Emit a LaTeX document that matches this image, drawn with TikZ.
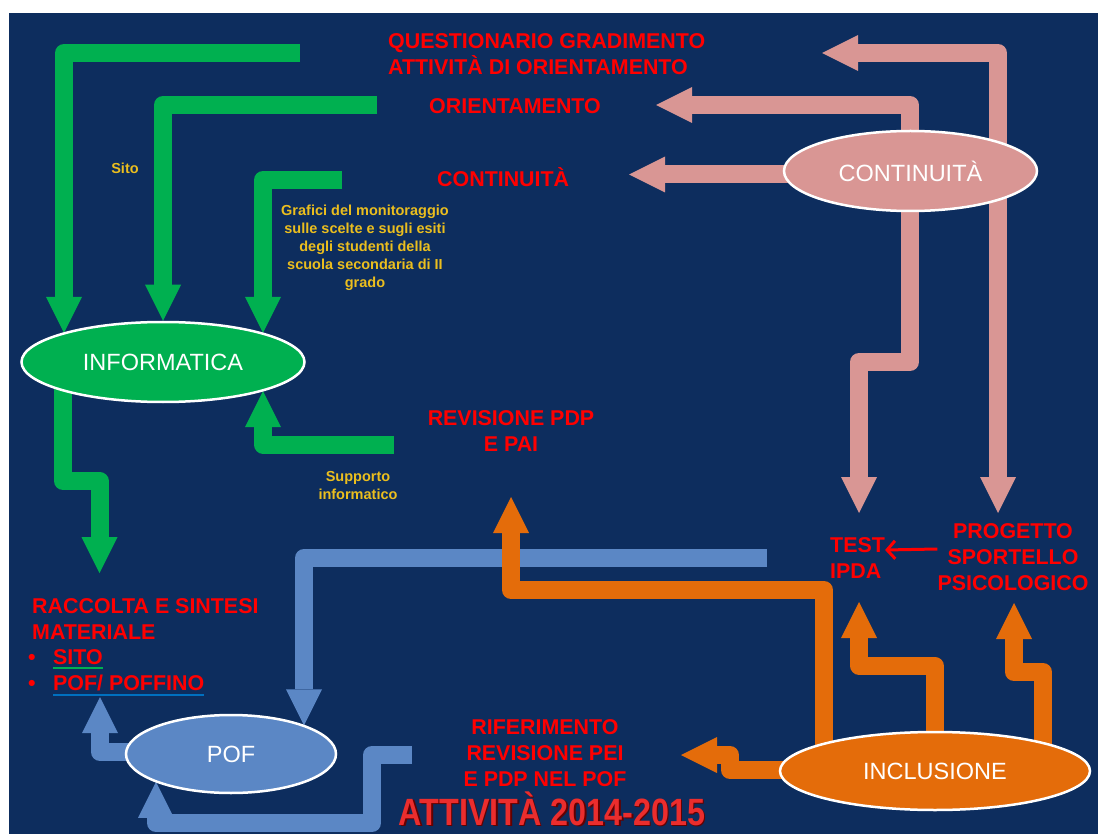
\documentclass[tikz,border=0pt]{standalone}
\usepackage{fontspec}
\setmainfont{Liberation Sans}
\newfontfamily\titlefont{Liberation Sans}[FakeStretch=0.85]
\usetikzlibrary{arrows.meta,shapes.geometric,calc}
\definecolor{bgblue}{RGB}{13,45,94}
\definecolor{grn}{HTML}{00B050}
\definecolor{pnk}{HTML}{D99694}
\definecolor{org}{HTML}{E46C0A}
\definecolor{blu}{HTML}{5B87C5}
\definecolor{ylw}{RGB}{235,190,30}
\definecolor{ulblue}{HTML}{0070C0}
\definecolor{shadowred}{RGB}{100,0,0}
\definecolor{titlered}{RGB}{235,45,45}
\pgfdeclarelayer{backg}
\pgfdeclarelayer{arrows}
\pgfsetlayers{backg,arrows,main}
\tikzset{
  blockarrow/.style={line width=18pt, line join=round,
    -{Triangle[width=36pt 0 1,length=36pt 0 1,line width=0pt 0 0]}},
  ellipsenode/.style={ellipse, draw=white, line width=2.5pt, text=white,
    font=\fontsize{23.5}{28}\selectfont, inner sep=0pt},
  redtxt/.style={text=red, font=\fontsize{21.4}{26}\selectfont\bfseries,
    inner sep=0pt, align=center},
  ylwtxt/.style={text=ylw, font=\fontsize{14.5}{18}\selectfont\bfseries,
    inner sep=0pt, align=center},
}
\begin{document}
\begin{tikzpicture}[x=1pt,y=-1pt]
\begin{pgfonlayer}{backg}
\fill[white] (0,0) rectangle (1098,834);
\fill[bgblue] (9,13) rectangle (1098,834);
\end{pgfonlayer}

% ellipses
\node[ellipsenode, fill=grn, minimum width=283pt, minimum height=80pt] (info) at (163,362) {INFORMATICA};
\node[ellipsenode, fill=pnk, minimum width=253pt, minimum height=80pt] (cont) at (910.5,171) {CONTINUITÀ};
\node[ellipsenode, fill=blu, minimum width=210pt, minimum height=78pt] (pof) at (231,754) {POF};
\node[ellipsenode, fill=org, minimum width=310pt, minimum height=78pt] (incl) at (935,771) {INCLUSIONE};

% red labels
\node[redtxt, align=left, anchor=west] (quest) at (388,54) {QUESTIONARIO GRADIMENTO\\ATTIVITÀ DI ORIENTAMENTO};
\node[redtxt, anchor=base west] (orient) at (429,113.5) {ORIENTAMENTO};
\node[redtxt, anchor=base west] (conttxt) at (437,186.5) {CONTINUITÀ};
\node[redtxt] (revtxt) at (511,431.5) {REVISIONE PDP\\E PAI};
\node[redtxt, align=left, anchor=west] (test) at (830,558.5) {TEST\\IPDA};
\node[redtxt] (prog) at (1013,557.5) {PROGETTO\\SPORTELLO\\PSICOLOGICO};
\node[redtxt] (rif) at (545,753) {RIFERIMENTO\\REVISIONE PEI\\E PDP NEL POF};
\node[redtxt, align=left, anchor=west] (racc) at (32,619) {RACCOLTA E SINTESI\\MATERIALE};
\node[redtxt, anchor=base west] (bul1) at (28,664.5) {•};
\node[redtxt, anchor=base west] (sito) at (53,664.5) {SITO};
\node[redtxt, anchor=base west] (bul2) at (28,690.5) {•};
\node[redtxt, anchor=base west] (poff) at (53,690.5) {POF/ POFFINO};
\draw[grn, line width=2pt] ([yshift=-3.5pt]sito.base west) -- ([yshift=-3.5pt]sito.base east);
\draw[ulblue, line width=2pt] ([yshift=-4.5pt]poff.base west) -- ([yshift=-4.5pt]poff.base east);

% title
\node[anchor=base, text=titlered, inner sep=0pt, font=\titlefont\bfseries\fontsize{38}{38}\selectfont] (title) at (552,825)
  {\rlap{\hspace{1.5pt}\raisebox{-1.5pt}{\textcolor{shadowred}{ATTIVITÀ 2014-2015}}}ATTIVITÀ 2014-2015};

% yellow labels
\node[ylwtxt, anchor=base] (sitolbl) at (125,174) {Sito};
\node[ylwtxt] (grafici) at (365,248) {Grafici del monitoraggio\\sulle scelte e sugli esiti\\degli studenti della\\scuola secondaria di II\\grado};
\node[ylwtxt] (supp) at (358,485.5) {Supporto\\informatico};

% coordinates
\coordinate (g1s) at (300,53);   \coordinate (g1c) at (64,53);
\coordinate (g2s) at (377,105);  \coordinate (g2c) at (163,105);
\coordinate (g3s) at (342,180);  \coordinate (g3c) at (263,180);
\coordinate (g4s) at (394,444.5);\coordinate (g4c) at (263,444.5);
\coordinate (g5a) at (63,481);   \coordinate (g5b) at (99.5,481); \coordinate (g5t) at (99.5,573);
\coordinate (p1c) at (998,53);   \coordinate (p1t) at (822,53);
\coordinate (p2t) at (998,513);
\coordinate (p3c) at (910,105);  \coordinate (p3t) at (656,105);
\coordinate (p4a) at (910,362);  \coordinate (p4b) at (859,362); \coordinate (p4t) at (859,513);
\coordinate (p5t) at (629,174.5);
\coordinate (b1s) at (767,558);  \coordinate (b1c) at (304,558);
\coordinate (b2c) at (100,752);  \coordinate (b2t) at (100,697);
\coordinate (b3s) at (412,755);  \coordinate (b3a) at (372,755); \coordinate (b3b) at (372,823); \coordinate (b3c) at (156,823);
\coordinate (o1a) at (824,590);  \coordinate (o1b) at (511,590); \coordinate (o1t) at (511,497);
\coordinate (o2a) at (934.5,665.5); \coordinate (o2b) at (859,665.5); \coordinate (o2t) at (859,602);
\coordinate (o3a) at (1043,672); \coordinate (o3b) at (1014,672); \coordinate (o3t) at (1014,603);
\coordinate (o4a) at (730,770);  \coordinate (o4b) at (730,755); \coordinate (o4t) at (681,755);

\begin{pgfonlayer}{arrows}
% green
\draw[blockarrow, grn] (g1s) -- (g1c) -- (g1c |- info.164);
\draw[blockarrow, grn] (g2s) -- (g2c) -- (info.north);
\draw[blockarrow, grn] (g3s) -- (g3c) -- (g3c |- info.16);
\draw[blockarrow, grn] (g4s) -- (g4c) -- (g4c |- info.-16);
\draw[blockarrow, grn] (g5a |- info.center) -- (g5a) -- (g5b) -- (g5t);
% pink
\draw[blockarrow, pnk] (p1c |- cont.center) -- (p1c) -- (p1t);
\draw[blockarrow, pnk] (p2t |- cont.center) -- (p2t);
\draw[blockarrow, pnk] (p3c |- cont.center) -- (p3c) -- (p3t);
\draw[blockarrow, pnk] (p4a |- cont.center) -- (p4a) -- (p4b) -- (p4t);
\draw[blockarrow, pnk] (cont.center |- p5t) -- (p5t);
% blue
\draw[blockarrow, blu] (b1s) -- (b1c) -- (b1c |- pof.21);
\draw[blockarrow, blu] (pof.center |- b2c) -- (b2c) -- (b2t);
\draw[blockarrow, blu] (b3s) -- (b3a) -- (b3b) -- (b3c) -- (b3c |- pof.200);
% orange
\draw[blockarrow, org] (o1a |- incl.center) -- (o1a) -- (o1b) -- (o1t);
\draw[blockarrow, org] (o2a |- incl.center) -- (o2a) -- (o2b) -- (o2t);
\draw[blockarrow, org] (o3a |- incl.center) -- (o3a) -- (o3b) -- (o3t);
\draw[blockarrow, org] (incl.center |- o4a) -- (o4a) -- (o4b) -- (o4t);
\end{pgfonlayer}

% thin red arrow
\draw[red, line width=3pt, -{Straight Barb[length=8pt 0 1,width=18pt 0 1]}] ([yshift=8.5pt]prog.west) -- ([yshift=8.5pt]test.east);
\end{tikzpicture}
\end{document}
